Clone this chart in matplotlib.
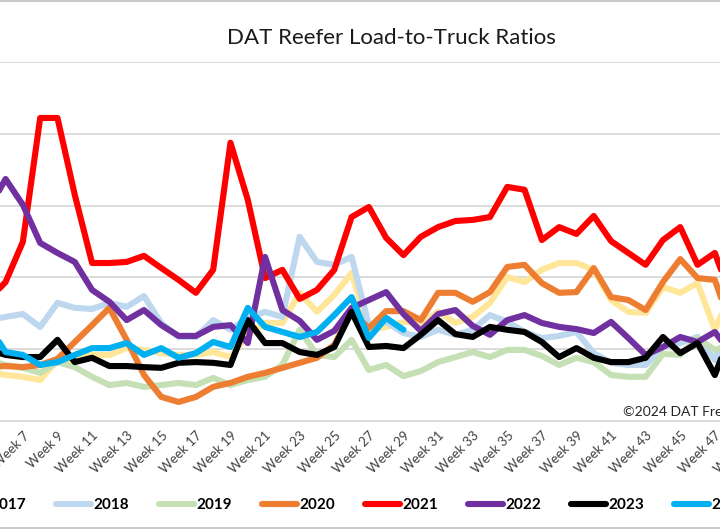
import matplotlib
matplotlib.use('Agg')
import matplotlib.pyplot as plt
from matplotlib.lines import Line2D

plt.rcParams['font.family'] = ['Lato', 'DejaVu Sans']

# weeks that fall inside the visible part of the chart
weeks = list(range(5, 49))
weeks_2024 = list(range(5, 30))
tick_weeks = list(range(5, 52, 2))
tick_labels = ['Week %d' % w for w in tick_weeks]

y2017 = [1.39, 1.28, 1.23, 1.14, 1.70, 1.70, 1.84, 1.84, 2.03, 1.98, 1.89, 1.84, 1.84, 1.92,
         1.78, 2.40, 2.73, 2.73, 3.57, 3.04, 3.51, 4.12, 2.54, 2.62, 2.76, 2.73, 3.04, 2.73,
         2.90, 3.29, 4.01, 3.87, 4.21, 4.40, 4.40, 4.21, 3.37, 3.04, 3.01, 3.73, 3.57, 3.84,
         2.54, 3.65]
y2018 = [2.81, 2.90, 2.98, 2.62, 3.29, 3.15, 3.12, 3.29, 3.18, 3.48, 2.73, 2.34, 2.34, 2.81,
         2.54, 2.87, 3.04, 2.90, 5.13, 4.43, 4.35, 4.57, 2.67, 2.76, 2.45, 2.34, 2.54, 2.40,
         2.54, 2.95, 2.76, 2.48, 2.31, 2.37, 2.48, 1.89, 1.62, 1.56, 1.56, 2.06, 2.17, 2.34,
         1.70, 2.67]
y2019 = [1.70, 1.56, 1.48, 1.34, 1.64, 1.50, 1.23, 1.00, 1.06, 0.95, 1.00, 1.06, 1.00, 1.20,
         1.00, 1.14, 1.23, 1.56, 2.54, 1.84, 1.78, 2.26, 1.42, 1.56, 1.25, 1.39, 1.64, 1.78,
         1.92, 1.78, 1.98, 1.98, 1.81, 1.56, 1.76, 1.64, 1.28, 1.23, 1.23, 1.87, 1.84, 2.31,
         1.98, 2.12]
y2020 = [1.50, 1.53, 1.50, 1.56, 1.73, 2.20, 2.67, 3.15, 2.26, 1.28, 0.67, 0.53, 0.67, 0.95,
         1.06, 1.23, 1.34, 1.48, 1.62, 1.76, 2.12, 3.04, 2.59, 3.06, 3.06, 2.81, 3.57, 3.57,
         3.32, 3.59, 4.29, 4.35, 3.84, 3.57, 3.59, 4.26, 3.45, 3.37, 3.09, 3.87, 4.51, 3.98,
         3.93, 2.54]
y2021 = [3.37, 3.87, 4.99, 8.44, 8.44, 6.30, 4.40, 4.40, 4.43, 4.60, 4.26, 3.93, 3.57, 4.21,
         7.75, 6.16, 3.98, 4.21, 3.40, 3.65, 4.21, 5.68, 5.96, 5.10, 4.62, 5.13, 5.40, 5.57,
         5.60, 5.68, 6.52, 6.44, 5.04, 5.40, 5.21, 5.71, 5.01, 4.68, 4.35, 5.04, 5.40, 4.35,
         4.68, 3.37]
y2022 = [5.88, 6.74, 6.02, 4.96, 4.68, 4.43, 3.65, 3.32, 2.81, 3.09, 2.67, 2.37, 2.37, 2.62,
         2.67, 2.17, 4.57, 3.09, 2.79, 2.26, 2.51, 3.15, 3.37, 3.59, 2.98, 2.51, 2.98, 3.09,
         2.65, 2.40, 2.81, 2.95, 2.73, 2.62, 2.56, 2.45, 2.76, 2.31, 1.84, 2.06, 2.34, 2.20,
         2.48, 1.84]
y2023 = [1.98, 1.84, 1.78, 1.78, 2.26, 1.64, 1.76, 1.53, 1.53, 1.50, 1.48, 1.62, 1.64, 1.62,
         1.56, 2.81, 2.17, 2.17, 1.92, 1.84, 2.06, 3.04, 2.06, 2.09, 2.03, 2.40, 2.81, 2.42,
         2.34, 2.62, 2.54, 2.48, 2.20, 1.78, 2.03, 1.76, 1.64, 1.64, 1.76, 2.34, 1.89, 2.17,
         1.28, 2.54]
y2024 = [2.67, 1.92, 1.84, 1.56, 1.64, 1.84, 2.03, 2.03, 2.17, 1.84, 2.03, 1.76, 1.89, 2.20,
         2.06, 3.15, 2.62, 2.48, 2.34, 2.48, 2.95, 3.45, 2.31, 2.87, 2.54]

series = [
    ('2017', weeks, y2017, '#FFE699'),
    ('2018', weeks, y2018, '#BDD7EE'),
    ('2019', weeks, y2019, '#C5E0B4'),
    ('2020', weeks, y2020, '#ED7D31'),
    ('2021', weeks, y2021, '#FF0000'),
    ('2022', weeks, y2022, '#7030A0'),
    ('2023', weeks, y2023, '#000000'),
    ('2024', weeks_2024, y2024, '#00B0F0'),
]

fig = plt.figure(figsize=(7.2, 5.3), dpi=100)
# the picture is a crop, so the axes run past both sides of the figure
ax = fig.add_axes([-0.1244, 0.2057, 1.2494, 0.6774])

for name, xs, ys, col in series:
    ax.plot(xs, ys, color=col, lw=4.4, label=name,
            solid_capstyle='round', solid_joinstyle='round')

ax.set_xlim(0.5, 52.5)
ax.set_ylim(0, 10)
ax.set_yticks([0, 2, 4, 6, 8, 10])
ax.set_yticklabels([])
ax.grid(axis='y', color='#D9D9D9', lw=1.3)
ax.set_axisbelow(True)
for s in ['top', 'left', 'right']:
    ax.spines[s].set_visible(False)
ax.spines['bottom'].set_color('#D9D9D9')
ax.spines['bottom'].set_linewidth(1.3)

ax.set_xticks(tick_weeks)
ax.set_xticklabels(tick_labels, rotation=45, ha='right', va='top',
                   rotation_mode='anchor', fontsize=9.5, color='#404040')
ax.tick_params(axis='both', length=0, pad=6)

fig.text(391 / 720, 1 - 38 / 530, 'DAT Reefer Load-to-Truck Ratios',
         ha='center', va='center', fontsize=16, color='#1a1a1a')
fig.text(623 / 720, 1 - 412 / 530, '\u00a92024 DAT Freight & Analytics',
         ha='left', va='center', fontsize=10, color='#262626')

leg = fig.legend(loc='center', bbox_to_anchor=(350 / 720, 1 - 505 / 530), ncol=8,
                 frameon=False, handlelength=2.3, handletextpad=0.15,
                 columnspacing=1.95, prop={'weight': 'bold', 'size': 11})

# chart border lines (top and bottom of the chart area)
fig.add_artist(Line2D([0, 1], [1 - 1 / 530, 1 - 1 / 530], color='#BFBFBF', lw=1.2))
fig.add_artist(Line2D([0, 1], [1 - 528 / 530, 1 - 528 / 530], color='#BFBFBF', lw=1.2))

fig.savefig('out.png', dpi=100)
